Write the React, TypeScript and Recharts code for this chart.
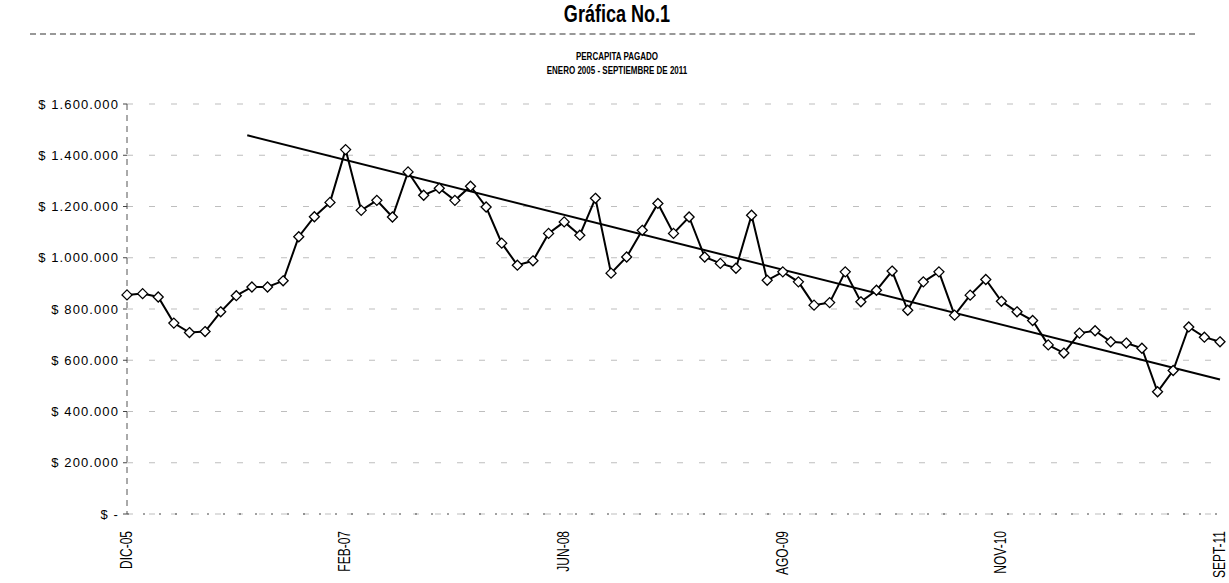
import React from "react";
import { LineChart, Line, XAxis, YAxis, CartesianGrid } from "recharts";

// Percápita pagado, one value per period (index 0 = DIC-05 ... 70 = SEPT-11)
const percapita = [
  855000, 860000, 847000, 745000, 708000, 712000, 789000, 852000, 886000, 886000,
  910000, 1082000, 1160000, 1216000, 1422000, 1185000, 1224000, 1159000, 1335000, 1244000,
  1271000, 1224000, 1279000, 1198000, 1057000, 971000, 988000, 1095000, 1140000, 1088000,
  1232000, 940000, 1003000, 1107000, 1212000, 1095000, 1159000, 1003000, 978000, 959000,
  1166000, 912000, 945000, 906000, 815000, 825000, 945000, 828000, 873000, 948000,
  795000, 906000, 945000, 776000, 854000, 915000, 830000, 789000, 755000, 660000,
  628000, 706000, 715000, 672000, 667000, 647000, 477000, 560000, 730000, 690000,
  672000,
];

// Trend line end points (period index, value)
const trendX = [7.7, 70];
const trendY = [1478000, 525000];

const xTickPositions = [0, 14, 28, 42, 56, 70];
const xTickLabels = ["DIC-05", "FEB-07", "JUN-08", "AGO-09", "NOV-10", "SEPT-11"];
const yTicks = [0, 200000, 400000, 600000, 800000, 1000000, 1200000, 1400000, 1600000];

const data = percapita.map((v, i) => ({ idx: i, value: v }));
const trendData = trendX.map((x, i) => ({ idx: x, trend: trendY[i] }));

const fmtMoney = (v: number) =>
  v === 0 ? "$ -" : "$ " + String(v).replace(/\B(?=(\d{3})+(?!\d))/g, ".");

const FONT = "'Liberation Sans', Arial, sans-serif";

const Diamond = (props: any) => {
  const { cx, cy } = props;
  if (cx == null || cy == null) return null;
  const r = 5;
  return (
    <path
      d={`M${cx},${cy - r} L${cx + r},${cy} L${cx},${cy + r} L${cx - r},${cy} Z`}
      fill="#fff"
      stroke="#000"
      strokeWidth={1.3}
    />
  );
};

const XTick = (props: any) => {
  const { x, y, payload } = props;
  const i = xTickPositions.indexOf(payload.value);
  const label = i >= 0 ? xTickLabels[i] : "";
  return (
    <g transform={`translate(${x},${y})`}>
      <text
        transform="rotate(-90) scale(1,1.35)"
        x={-9}
        dy={3.5}
        textAnchor="end"
        fontSize={12}
        fontFamily={FONT}
        fill="#000"
      >
        {label}
      </text>
    </g>
  );
};

export default function App() {
  return (
    <div style={{ position: "absolute", left: 0, top: 0, width: 1229, height: 583, background: "#fff" }}>
      <div
        style={{
          position: "absolute",
          left: 0,
          width: 1234,
          top: 2,
          textAlign: "center",
          fontFamily: FONT,
          fontWeight: "bold",
          fontSize: 22,
          lineHeight: "26px",
          color: "#000",
          transform: "scale(0.82, 1.05)",
          transformOrigin: "617px 13px",
        }}
      >
        Gráfica No.1
      </div>
      <div
        style={{
          position: "absolute",
          left: 30,
          width: 1165,
          top: 33,
          borderTop: "2px dashed #444",
          opacity: 0.55,
        }}
      />
      <div
        style={{
          position: "absolute",
          left: 0,
          width: 1234,
          top: 50,
          textAlign: "center",
          fontFamily: FONT,
          fontWeight: "bold",
          fontSize: 10,
          lineHeight: "12px",
          color: "#000",
          transform: "scale(0.8, 1.15)",
          transformOrigin: "617px 0px",
        }}
      >
        <div>PERCAPITA PAGADO</div>
        <div>ENERO 2005 - SEPTIEMBRE DE 2011</div>
      </div>
      <div style={{ position: "absolute", left: 0, top: 0 }}>
        <LineChart
          width={1229}
          height={583}
          data={data}
          margin={{ top: 104, right: 9, bottom: 9, left: 27 }}
        >
          <CartesianGrid
            vertical={false}
            stroke="#888"
            strokeDasharray="6 16"
            strokeOpacity={0.55}
          />
          <XAxis
            dataKey="idx"
            type="number"
            domain={[0, 70]}
            ticks={xTickPositions}
            interval={0}
            height={60}
            tick={<XTick />}
            tickLine={false}
            axisLine={{ stroke: "#444", strokeDasharray: "2 14" }}
            allowDuplicatedCategory={false}
          />
          <YAxis
            type="number"
            domain={[0, 1600000]}
            ticks={yTicks}
            width={100}
            tickFormatter={fmtMoney}
            tickSize={4}
            tickMargin={4}
            tick={{ fontSize: 13, fill: "#000", fontFamily: FONT, letterSpacing: 1.1 }}
            tickLine={{ stroke: "#444" }}
            axisLine={{ stroke: "#555", strokeDasharray: "6 5" }}
          />
          <Line
            data={data}
            dataKey="value"
            type="linear"
            stroke="#000"
            strokeWidth={2}
            dot={<Diamond />}
            isAnimationActive={false}
          />
          <Line
            data={trendData}
            dataKey="trend"
            type="linear"
            stroke="#000"
            strokeWidth={2}
            dot={false}
            isAnimationActive={false}
          />
        </LineChart>
      </div>
    </div>
  );
}
